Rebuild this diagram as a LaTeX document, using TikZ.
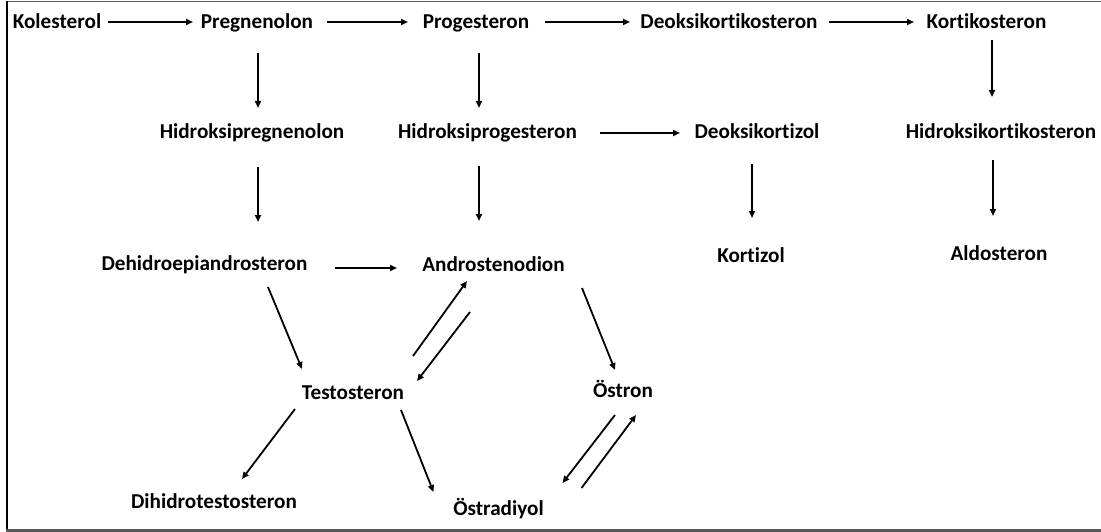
\documentclass[tikz,border=0pt]{standalone}
\usepackage{fontspec}
\setmainfont{Carlito}[Ligatures=NoCommon]
\usetikzlibrary{arrows.meta}

\tikzset{
  hormon/.style={font=\fontsize{21.2}{24}\selectfont\bfseries, inner sep=0pt,
    text height=14pt, text depth=0pt},
  ok/.style={line width=1.8pt, -{Triangle[length=7pt,width=6pt]}}
}

\begin{document}
\begin{tikzpicture}[x=1pt,y=-1pt]
    \useasboundingbox (0,0) rectangle (1101,532);

    % frame
    \draw[black!65, line width=1.8pt] (1101,1.5) -- (7,1.5);
    \draw[black, line width=2pt] (7,1.5) -- (7,530);
    \draw[black!65, line width=3pt] (6,530.5) -- (1101,530.5);

    % top row
    \node[hormon] (kol) at (57,22) {Kolesterol};
    \node[hormon] (preg) at (257,22) {Pregnenolon};
    \node[hormon] (prog) at (476,22) {Progesteron};
    \node[hormon] (deok) at (729,22) {Deoksikortikosteron};
    \node[hormon] (kort) at (986.5,22) {Kortikosteron};

    % second row
    \node[hormon] (hpreg) at (252,132) {Hidroksipregnenolon};
    \node[hormon] (hprog) at (487.5,132) {Hidroksiprogesteron};
    \node[hormon] (deokz) at (757,132) {Deoksikortizol};
    \node[hormon] (hkort) at (1001,132) {Hidroksikortikosteron};

    % third row
    \node[hormon] (dhea) at (204.5,263) {Dehidroepiandrosteron};
    \node[hormon] (andro) at (493.5,264) {Androstenodion};
    \node[hormon] (kortz) at (751,255) {Kortizol};
    \node[hormon] (aldo) at (999,253) {Aldosteron};

    % sex hormones
    \node[hormon] (testo) at (353,392) {Testosteron};
    \node[hormon] (ostron) at (623,390) {Östron};
    \node[hormon] (dht) at (214,501) {Dihidrotestosteron};
    \node[hormon] (ostrad) at (498.5,508) {Östradiyol};

    % arrows along the top
    \draw[ok] ([shift={(51,0)}]kol.center) -- ([shift={(-64,0)}]preg.center);
    \draw[ok] ([shift={(70,0)}]preg.center) -- ([shift={(-68,0)}]prog.center);
    \draw[ok] ([shift={(69,0)}]prog.center) -- ([shift={(-99,0)}]deok.center);
    \draw[ok] ([shift={(100,0)}]deok.center) -- ([shift={(-72.5,0)}]kort.center);

    % arrows down
    \draw[ok] ([shift={(1,31)}]preg.center) -- ([shift={(6,-24)}]hpreg.center);
    \draw[ok] ([shift={(3,31)}]prog.center) -- ([shift={(-8.5,-24)}]hprog.center);
    \draw[ok] ([shift={(5.5,18)}]kort.center) -- ([shift={(-9,-35)}]hkort.center);
    \draw[ok] ([shift={(112.5,1)}]hprog.center) -- ([shift={(-77,1)}]deokz.center);
    \draw[ok] ([shift={(6,35)}]hpreg.center) -- ([shift={(53.5,-41)}]dhea.center);
    \draw[ok] ([shift={(-8.5,34)}]hprog.center) -- ([shift={(-14.5,-43)}]andro.center);
    \draw[ok] ([shift={(-5,32)}]deokz.center) -- ([shift={(1,-37)}]kortz.center);
    \draw[ok] ([shift={(-8,28)}]hkort.center) -- ([shift={(-6,-37)}]aldo.center);

    % androgens and estrogens
    \draw[ok] ([shift={(130.5,5)}]dhea.center) -- ([shift={(-96.5,4)}]andro.center);
    \draw[ok] ([shift={(63.5,24)}]dhea.center) -- ([shift={(-51,-23)}]testo.center);
    \draw[ok] ([shift={(60,-36)}]testo.center) -- ([shift={(-26.5,17)}]andro.center);
    \draw[ok] ([shift={(-23.5,48)}]andro.center) -- ([shift={(64,-11)}]testo.center);
    \draw[ok] ([shift={(-58,17)}]testo.center) -- ([shift={(28,-22)}]dht.center);
    \draw[ok] ([shift={(48,18)}]testo.center) -- ([shift={(-65,-16)}]ostrad.center);
    \draw[ok] ([shift={(88.5,24)}]andro.center) -- ([shift={(-8,-20)}]ostron.center);
    \draw[ok] ([shift={(-8,25)}]ostron.center) -- ([shift={(64,-25)}]ostrad.center);
    \draw[ok] ([shift={(83,-20)}]ostrad.center) -- ([shift={(13,25)}]ostron.center);
\end{tikzpicture}
\end{document}
